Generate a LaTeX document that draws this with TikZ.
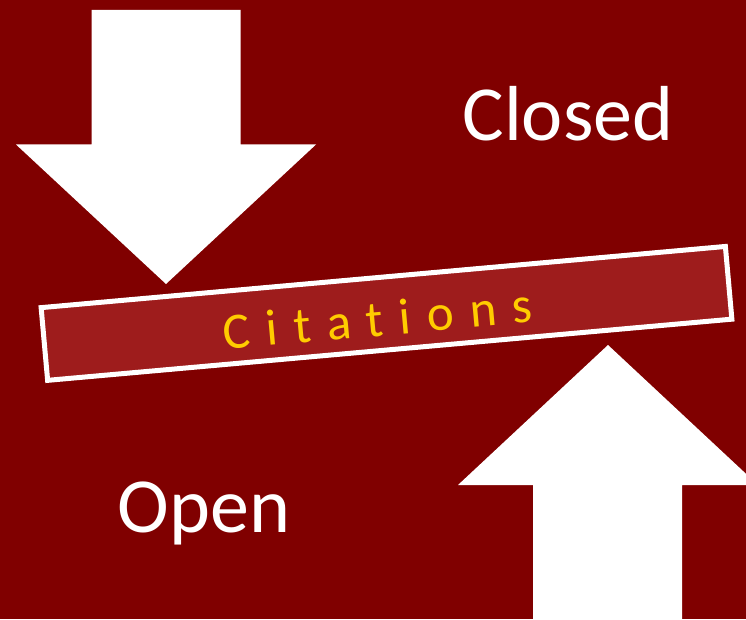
\documentclass[tikz,border=0pt]{standalone}
\usepackage{fontspec}
\setmainfont{Carlito}
\definecolor{bgred}{RGB}{128,0,0}
\definecolor{barred}{RGB}{158,28,28}
\definecolor{gold}{RGB}{255,204,0}
\begin{document}
\begin{tikzpicture}[x=1pt,y=1pt,
  arrowshape/.style={fill=white,draw=none},
  bigtext/.style={text=white,font=\fontsize{78}{80}\selectfont,inner sep=0pt,anchor=base},
  barbox/.style={draw=white,line width=5pt,fill=barred,minimum width=687pt,minimum height=73pt,inner sep=0pt},
  bartext/.style={inner sep=0pt,text=gold,font=\fontsize{51}{53}\selectfont\addfontfeature{LetterSpace=31.5,Ligatures=NoCommon}}]
\fill[bgred] (0,0) rectangle (746,619);
\useasboundingbox (0,0) rectangle (746,619);
% down arrow
\fill[arrowshape] (91.5,609) -- (240.5,609) -- (240.5,474.5) -- (316,474.5) -- (166,335) -- (16,474.5) -- (91.5,474.5) -- cycle;
% up arrow
\fill[arrowshape] (533,-5) -- (533,134) -- (458,134) -- (608,274) -- (758,134) -- (682,134) -- (682,-5) -- cycle;
% bar
\node[barbox,rotate=5.11] (bar) at (386.5,305.6) {};
\node[bartext,rotate=5.11] (cit) at (377.9,300.3) {Citations};
\node[bigtext] (closed) at (568,478) {Closed};
\node[bigtext] (open) at (204,87) {Open};
\end{tikzpicture}
\end{document}
